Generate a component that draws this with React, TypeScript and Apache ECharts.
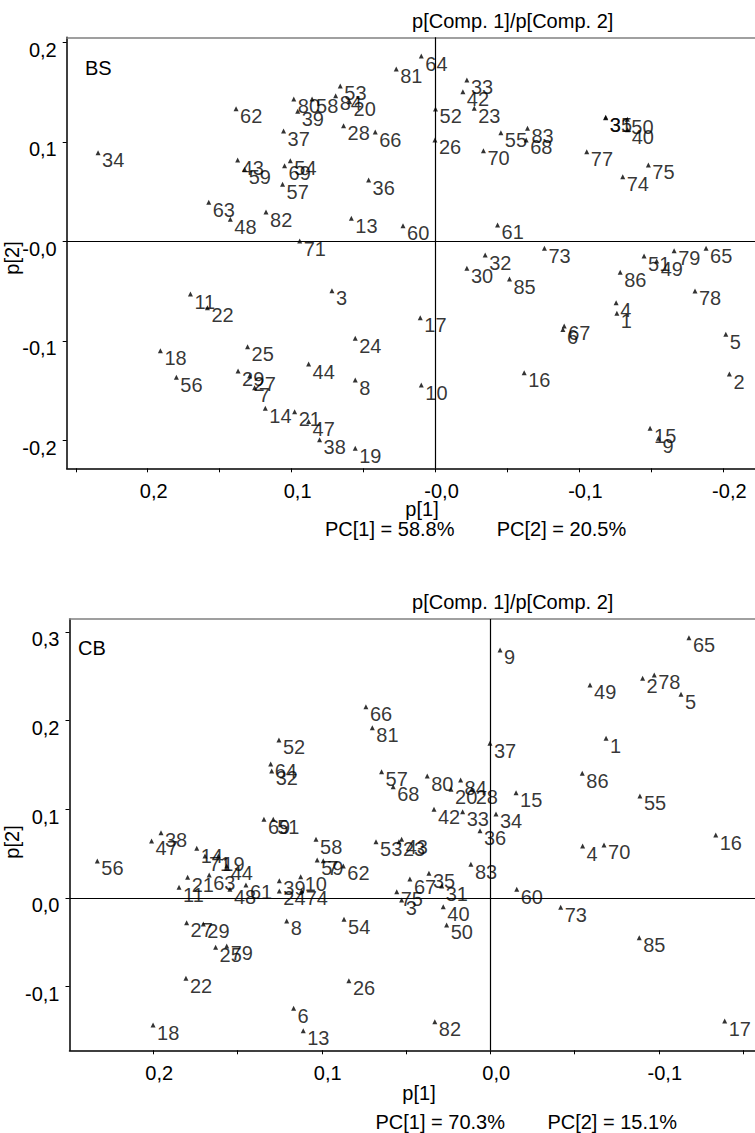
import React, { useEffect, useRef } from "react";
import * as echarts from "echarts";

// BS loadings (p[1], p[2]) per sample
const bsLabels = [
  "1", "2", "3", "4", "5", "6", "7", "8", "9", "10", "11", "13", "14", "15", "16", "17", "18", "19", "20",
  "21", "22", "23", "24", "25", "26", "27", "28", "29", "30", "31", "32", "33", "34", "35", "36", "37", "38",
  "39", "40", "42", "43", "44", "47", "48", "49", "50", "51", "52", "53", "54", "55", "56", "57", "58", "59",
  "60", "61", "62", "63", "64", "65", "66", "67", "68", "69", "70", "71", "73", "74", "75", "77", "78", "79",
  "80", "81", "82", "83", "84", "85", "86",
];
const bsX = [
  -0.126, -0.2042, 0.072, -0.1255, -0.2017, -0.0885, 0.1257, 0.0558, -0.1549, 0.0099, 0.1703, 0.0585, 0.1183,
  -0.1491, -0.0616, 0.0106, 0.1912, 0.0558, 0.0597, 0.0979, 0.1585, -0.0269, 0.0558, 0.1306, 0.0004, 0.1292,
  0.0639, 0.1372, -0.0218, -0.1182, -0.0345, -0.0218, 0.2345, -0.1183, 0.0465, 0.1056, 0.0806, 0.0958, -0.1335,
  -0.019, 0.1375, 0.0882, 0.0882, 0.1426, -0.1537, -0.1333, -0.1449, 0.0, 0.0662, 0.1009, -0.0454, 0.1801,
  0.1063, 0.0858, 0.1326, 0.0226, -0.0431, 0.1386, 0.1576, 0.0099, -0.188, 0.0419, -0.0894, -0.063, 0.1049,
  -0.0333, 0.0944, -0.0757, -0.1301, -0.1479, -0.1051, -0.1803, -0.1658, 0.0985, 0.0273, 0.1178, -0.0639,
  0.0694, -0.0514, -0.1283,
];
const bsY = [
  -0.0724, -0.1334, -0.0496, -0.0617, -0.0935, -0.0885, -0.1471, -0.1394, -0.198, -0.1444, -0.053, 0.0231,
  -0.1678, -0.1879, -0.1321, -0.0768, -0.1099, -0.208, 0.1403, -0.1712, -0.0667, 0.1337, -0.0975, -0.1059,
  0.1018, -0.1354, 0.1162, -0.1304, -0.0271, 0.1242, -0.0138, 0.1621, 0.0891, 0.1246, 0.0616, 0.1108, -0.1995,
  0.1306, 0.1121, 0.1504, 0.0817, -0.1233, -0.1811, 0.0221, -0.0198, 0.1226, -0.0148, 0.133, 0.1561, 0.081,
  0.1091, -0.1367, 0.0573, 0.143, 0.0722, 0.0157, 0.0164, 0.1333, 0.0392, 0.1862, -0.007, 0.1098, -0.0851,
  0.1018, 0.076, 0.0911, 0.0003, -0.007, 0.0649, 0.0767, 0.0901, -0.0499, -0.0094, 0.143, 0.1732, 0.0294,
  0.1135, 0.1463, -0.0379, -0.0312,
];

// CB loadings (p[1], p[2]) per sample
const cbLabels = [
  "1", "2", "3", "4", "5", "6", "7", "8", "9", "10", "11", "13", "14", "15", "16", "17", "18", "19", "20",
  "21", "22", "23", "24", "25", "26", "27", "28", "29", "31", "32", "33", "34", "35", "36", "37", "38", "39",
  "40", "42", "43", "44", "47", "48", "49", "50", "51", "52", "53", "54", "55", "56", "57", "58", "59", "60",
  "61", "62", "63", "64", "65", "66", "67", "68", "69", "70", "71", "73", "74", "75", "78", "79", "80", "81",
  "82", "83", "84", "85", "86",
];
const cbX = [
  -0.0687, -0.0904, 0.0526, -0.0548, -0.1132, 0.1167, 0.0991, 0.1208, -0.0058, 0.1125, 0.1847, 0.111, 0.1742,
  -0.0153, -0.1338, -0.1391, 0.2001, 0.1614, 0.0233, 0.1796, 0.1806, 0.0542, 0.1252, 0.163, 0.0839, 0.1802,
  0.011, 0.1703, 0.0288, 0.1297, 0.0164, -0.0034, 0.0364, 0.0061, 0.0002, 0.1954, 0.1252, 0.0279, 0.0334,
  0.0526, 0.1564, 0.201, 0.1545, -0.0592, 0.0259, 0.1288, 0.1254, 0.0678, 0.0868, -0.0888, 0.2332, 0.0645,
  0.1034, 0.1027, -0.0157, 0.145, 0.0872, 0.1668, 0.1303, -0.1179, 0.0738, 0.0477, 0.0576, 0.1343, -0.0675,
  0.1693, -0.0418, 0.1119, 0.0555, -0.0973, 0.1564, 0.0374, 0.07, 0.0329, 0.0115, 0.0176, -0.0884, -0.0546,
];
const cbY = [
  0.18, 0.2477, -0.0023, 0.0586, 0.2296, -0.1244, 0.042, -0.0259, 0.2796, 0.024, 0.0121, -0.1496, 0.056,
  0.1187, 0.071, -0.1387, -0.1432, 0.0473, 0.1225, 0.0233, -0.0905, 0.0635, 0.0079, -0.0556, -0.0932, -0.0278,
  0.1225, -0.0293, 0.0135, 0.1432, 0.0973, 0.0947, 0.0278, 0.0759, 0.1744, 0.0736, 0.0195, -0.0098, 0.1,
  0.0662, 0.0361, 0.0643, 0.0098, 0.2401, -0.0304, 0.0887, 0.1781, 0.0635, -0.024, 0.115, 0.0417, 0.1424,
  0.0662, 0.0428, 0.0098, 0.0147, 0.0361, 0.0259, 0.1511, 0.2935, 0.2157, 0.0214, 0.1255, 0.0887, 0.0598,
  0.0473, -0.0105, 0.0082, 0.0071, 0.2514, -0.0541, 0.1375, 0.192, -0.1394, 0.038, 0.133, -0.0448, 0.1406,
];

// Axis ticks and tick labels
const bsXTicks = [0.25, 0.2, 0.15, 0.1, 0.05, 0, -0.05, -0.1, -0.15, -0.2];
const bsXLabelValues = [0.2, 0.1, 0, -0.1, -0.2];
const bsXLabelTexts = ["0,2", "0,1", "-0,0", "-0,1", "-0,2"];
const bsYLabelValues = [0.2, 0.1, 0, -0.1, -0.2];
const bsYLabelTexts = ["0,2", "0,1", "-0,0", "-0,1", "-0,2"];

const cbXTicks = [0.25, 0.2, 0.15, 0.1, 0.05, 0, -0.05, -0.1, -0.15];
const cbXLabelValues = [0.2, 0.1, 0, -0.1];
const cbXLabelTexts = ["0,2", "0,1", "0,0", "-0,1"];
const cbYLabelValues = [0.3, 0.2, 0.1, 0, -0.1];
const cbYLabelTexts = ["0,3", "0,2", "0,1", "0,0", "-0,1"];

// Axis ranges
const bsXRange = [-0.222, 0.2563];
const bsYRange = [-0.2281, 0.205];
const cbXRange = [-0.1571, 0.2497];
const cbYRange = [-0.1717, 0.3145];

const FONT = "'Liberation Sans', Arial, Helvetica, sans-serif";
const FS = 20;

function lookup(values: number[], texts: string[]) {
  return (v: number) => {
    const i = values.findIndex((t) => Math.abs(t - v) < 1e-6);
    return i >= 0 ? texts[i] : "";
  };
}

function bottomAxis(grid: number, range: number[], ticks: number[], lv: number[], lt: string[]) {
  return {
    gridIndex: grid,
    type: "value",
    position: "bottom",
    inverse: true,
    min: range[0],
    max: range[1],
    splitLine: { show: false },
    axisLine: { show: true, onZero: false, lineStyle: { color: "#000", width: 1.5 } },
    axisTick: { show: true, customValues: ticks, length: 4, lineStyle: { color: "#000", width: 1 } },
    axisLabel: {
      customValues: lv,
      formatter: lookup(lv, lt),
      color: "#000",
      fontSize: FS,
      fontFamily: FONT,
      margin: 13,
      padding: [0, 0, 0, 12],
    },
  };
}

function topBorderAxis(grid: number) {
  return {
    gridIndex: grid,
    type: "value",
    position: "top",
    min: 0,
    max: 1,
    splitLine: { show: false },
    axisLine: { show: true, onZero: false, lineStyle: { color: "#808080", width: 1.5 } },
    axisTick: { show: false },
    axisLabel: { show: false },
  };
}

// y tick labels sit a little below their tick marks
function leftAxis(grid: number, range: number[], lv: number[], lt: string[]) {
  return {
    gridIndex: grid,
    type: "value",
    min: range[0],
    max: range[1],
    splitLine: { show: false },
    axisLine: { show: true, onZero: false, lineStyle: { color: "#000", width: 1.5 } },
    axisTick: { show: true, customValues: lv, length: 4, lineStyle: { color: "#000", width: 1 } },
    axisLabel: {
      customValues: lv,
      formatter: lookup(lv, lt),
      color: "#000",
      fontSize: FS,
      fontFamily: FONT,
      margin: 10,
      verticalAlign: "top",
      lineHeight: 15,
    },
  };
}

function scatter(xIdx: number, yIdx: number, labels: string[], xs: number[], ys: number[], xr: number[], yr: number[]) {
  return {
    type: "scatter",
    xAxisIndex: xIdx,
    yAxisIndex: yIdx,
    data: labels.map((l, i) => [xs[i], ys[i], l]),
    symbol: "triangle",
    symbolSize: 5,
    itemStyle: { color: "#000" },
    emphasis: { disabled: true },
    label: {
      show: true,
      formatter: (p: any) => p.data[2],
      position: [6.5, 10],
      align: "left",
      verticalAlign: "middle",
      color: "#000",
      fontSize: FS,
      fontFamily: FONT,
    },
    markLine: {
      silent: true,
      symbol: ["none", "none"],
      label: { show: false },
      lineStyle: { color: "#000", width: 1.2, type: "solid" },
      data: [
        [{ coord: [0, yr[0]] }, { coord: [0, yr[1]] }],
        [{ coord: [xr[0], 0] }, { coord: [xr[1], 0] }],
      ],
    },
    z: 3,
  };
}

function txt(text: string, x: number, y: number, align = "center", rotation = 0) {
  return {
    type: "text",
    x,
    y,
    rotation,
    style: {
      text,
      fill: "#000",
      fontSize: FS,
      fontFamily: FONT,
      textAlign: align,
      textVerticalAlign: "middle",
    },
  };
}

export default function App() {
  const ref = useRef<HTMLDivElement>(null);

  useEffect(() => {
    if (!ref.current) return;
    const chart = echarts.init(ref.current, undefined, { renderer: "svg" });
    chart.setOption({
      animation: false,
      backgroundColor: "#fff",
      grid: [
        { left: 66.7, top: 37.3, right: 0, height: 431 },
        { left: 69.5, top: 619, right: 0, height: 431.3 },
      ],
      xAxis: [
        bottomAxis(0, bsXRange, bsXTicks, bsXLabelValues, bsXLabelTexts),
        topBorderAxis(0),
        bottomAxis(1, cbXRange, cbXTicks, cbXLabelValues, cbXLabelTexts),
        topBorderAxis(1),
      ],
      yAxis: [
        leftAxis(0, bsYRange, bsYLabelValues, bsYLabelTexts),
        leftAxis(1, cbYRange, cbYLabelValues, cbYLabelTexts),
      ],
      series: [
        scatter(0, 0, bsLabels, bsX, bsY, bsXRange, bsYRange),
        scatter(2, 1, cbLabels, cbX, cbY, cbXRange, cbYRange),
      ],
      graphic: [
        txt("p[Comp. 1]/p[Comp. 2]", 512.7, 21),
        txt("BS", 85, 67.5, "left"),
        txt("p[1]", 422, 508.7),
        txt("PC[1] = 58.8%", 325, 529, "left"),
        txt("PC[2] = 20.5%", 496.7, 529, "left"),
        txt("p[2]", 12, 258, "center", Math.PI / 2),
        txt("p[Comp. 1]/p[Comp. 2]", 512.7, 602),
        txt("CB", 78, 648.3, "left"),
        txt("p[1]", 419, 1093),
        txt("PC[1] = 70.3%", 375.5, 1121.7, "left"),
        txt("PC[2] = 15.1%", 547.4, 1121.7, "left"),
        txt("p[2]", 12, 842, "center", Math.PI / 2),
      ],
    });
    return () => chart.dispose();
  }, []);

  return (
    <div
      ref={ref}
      style={{ position: "absolute", left: 0, top: 0, width: 755, height: 1133, background: "#fff" }}
    />
  );
}
